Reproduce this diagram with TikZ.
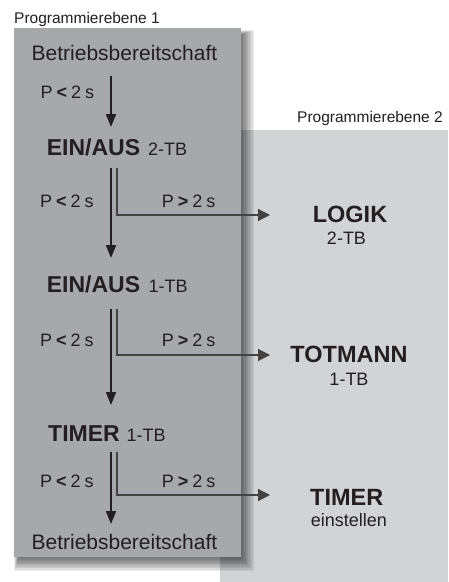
\documentclass[tikz,border=0pt]{standalone}
\usepackage{fontspec}
\setmainfont{Liberation Sans}
\usetikzlibrary{arrows.meta,shadows.blur}
\definecolor{panelA}{HTML}{A7A8AB}
\definecolor{panelB}{HTML}{D2D3D5}
\definecolor{ink}{HTML}{231F20}
\newcommand{\plt}{P\hspace{4pt}\textbf{<}\hspace{4pt}2\hspace{4pt}s}
\newcommand{\pgt}{P\hspace{4pt}\textbf{>}\hspace{4pt}2\hspace{4pt}s}
\begin{document}
\begin{tikzpicture}[x=1pt,y=-1pt,
  lvl/.style={font=\fontsize{15.5}{18}\selectfont, text=ink, inner sep=0pt, anchor=base west},
  big/.style={font=\fontsize{21}{25}\selectfont, text=ink, inner sep=0pt, anchor=base},
  state/.style={font=\fontsize{23}{27}\selectfont\bfseries, text=ink, inner sep=0pt, anchor=base west},
  sub/.style={font=\fontsize{18}{21}\selectfont, text=ink, inner sep=0pt, anchor=base west},
  cond/.style={font=\fontsize{18}{21}\selectfont, text=ink, inner sep=0pt, anchor=base west},
  target/.style={font=\fontsize{23.5}{27}\selectfont\bfseries, text=ink, inner sep=0pt, anchor=base},
  mainarrow/.style={draw=ink, line width=2pt, -{Triangle[length=13pt,width=10pt]}},
  sidearrow/.style={draw=ink!85, line width=1.2pt, -{Triangle[length=12pt,width=12pt]}},
]
\useasboundingbox (0,0) rectangle (448,582);
\fill[white] (0,0) rectangle (448,582);
\fill[panelB] (220,130) rectangle (448,582);
% shadow of the left panel
\foreach \k in {0,...,9} {
  \fill[black, opacity=0.07] (14+\k*0.5, 30+\k*0.5) rectangle (254-\k*1.4, 571-\k*1.4);
}
\fill[panelA] (14,28) rectangle (241,557);

% level labels
\node[lvl] (pe1) at (14,23) {Programmierebene 1};
\node[lvl, anchor=base east] (pe2) at (443,122) {Programmierebene 2};

% left column
\node[big] (bb1) at (124.5,60) {Betriebsbereitschaft};
\node[cond] (c0) at (40.5,98) {\plt};
\node[state] (ein2) at (46.7,155) {EIN/AUS};
\node[sub] (ein2tb) at (148,155) {2-TB};
\node[cond] (c1l) at (40,207) {\plt};
\node[cond] (c1r) at (161.7,207) {\pgt};
\node[state] (ein1) at (46.7,292.7) {EIN/AUS};
\node[sub] (ein1tb) at (148.5,292.7) {1-TB};
\node[cond] (c2l) at (40,346.7) {\plt};
\node[cond] (c2r) at (161.7,346.7) {\pgt};
\node[state] (tim1) at (48,441) {TIMER};
\node[sub] (tim1tb) at (126.5,441) {1-TB};
\node[cond] (c3l) at (40,487.3) {\plt};
\node[cond] (c3r) at (161.7,487.3) {\pgt};
\node[big] (bb2) at (124.4,549.3) {Betriebsbereitschaft};

% right column
\node[target] (logik) at (350,222.7) {LOGIK};
\node[sub, anchor=base] (logiktb) at (346.5,244.3) {2-TB};
\node[target] (totmann) at (349,362.7) {TOTMANN};
\node[sub, anchor=base] (totmanntb) at (349,385) {1-TB};
\node[target] (timer) at (346.7,505) {TIMER};
\node[sub, anchor=base] (timerset) at (349,526.7) {einstellen};

% connector ends
\coordinate (a0s) at (111,76);  \coordinate (a0e) at (111,127);
\coordinate (a1s) at (111,168); \coordinate (a1e) at (111,258);
\coordinate (b1s) at (117,168); \coordinate (b1e) at (270,215);
\coordinate (a2s) at (111,309); \coordinate (a2e) at (111,405);
\coordinate (b2s) at (117,309); \coordinate (b2e) at (270,355);
\coordinate (a3s) at (111,452); \coordinate (a3e) at (111,524);
\coordinate (b3s) at (117,452); \coordinate (b3e) at (270,495);

\draw[mainarrow] (a0s) -- (a0e);
\draw[mainarrow] (a1s) -- (a1e);
\draw[mainarrow] (a2s) -- (a2e);
\draw[mainarrow] (a3s) -- (a3e);
\draw[sidearrow] (b1s) |- (b1e);
\draw[sidearrow] (b2s) |- (b2e);
\draw[sidearrow] (b3s) |- (b3e);
\end{tikzpicture}
\end{document}
